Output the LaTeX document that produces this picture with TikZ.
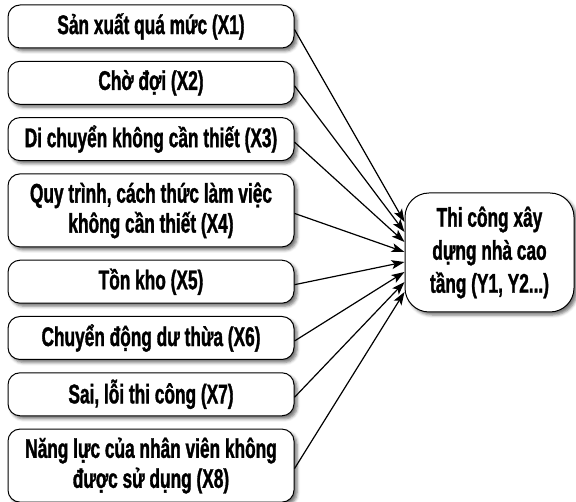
\documentclass[tikz,border=0pt]{standalone}
\usepackage{fontspec}
\setmainfont{Liberation Sans}[FakeStretch=0.64, BoldFeatures={FakeBold=1.2}]
\usetikzlibrary{positioning}
\usetikzlibrary{arrows.meta}
\usetikzlibrary{shadows.blur}

\tikzset{
  cause/.style={draw, line width=1pt, rounded corners=12pt, fill=white,
    minimum width=286pt, minimum height=43pt, inner sep=4pt, align=center,
    font=\bfseries\fontsize{27}{30}\selectfont,
    blur shadow={shadow xshift=3pt, shadow yshift=-3pt, shadow blur radius=3pt, shadow opacity=55}},
  effect/.style={cause, rounded corners=24pt, minimum width=169pt, minimum height=119pt,
    font=\bfseries\fontsize{27}{33}\selectfont},
  link/.style={->, >={Stealth[length=13pt,width=9pt,inset=3pt]}, line width=1.2pt}
}

\begin{document}
\begin{tikzpicture}[x=1pt, y=-1pt, node distance=12.3pt]
      \useasboundingbox (0,0) rectangle (576,502);

      \node[cause]              (x1) at (151,26.5) {Sản xuất quá mức (X1)};
      \node[cause, below=of x1] (x2) {Chờ đợi (X2)};
      \node[cause, below=of x2] (x3) {Di chuyển không cần thiết (X3)};
      \node[cause, below=of x3, minimum height=73pt] (x4) {Quy trình, cách thức làm việc\\không cần thiết (X4)};
      \node[cause, below=of x4] (x5) {Tồn kho (X5)};
      \node[cause, below=of x5] (x6) {Chuyển động dư thừa (X6)};
      \node[cause, below=of x6] (x7) {Sai, lỗi thi công (X7)};
      \node[cause, below=of x7, minimum height=73pt] (x8) {Năng lực của nhân viên không\\được sử dụng (X8)};

      \node[effect] (y) at (489.5,252.5) {Thi công xây\\dựng nhà cao\\tầng (Y1, Y2...)};

      \foreach \i in {1,...,8}
        \draw[link] ([yshift=-3pt]x\i.east) -- ([yshift={40.5-10*\i}]y.west);
    \end{tikzpicture}
\end{document}
